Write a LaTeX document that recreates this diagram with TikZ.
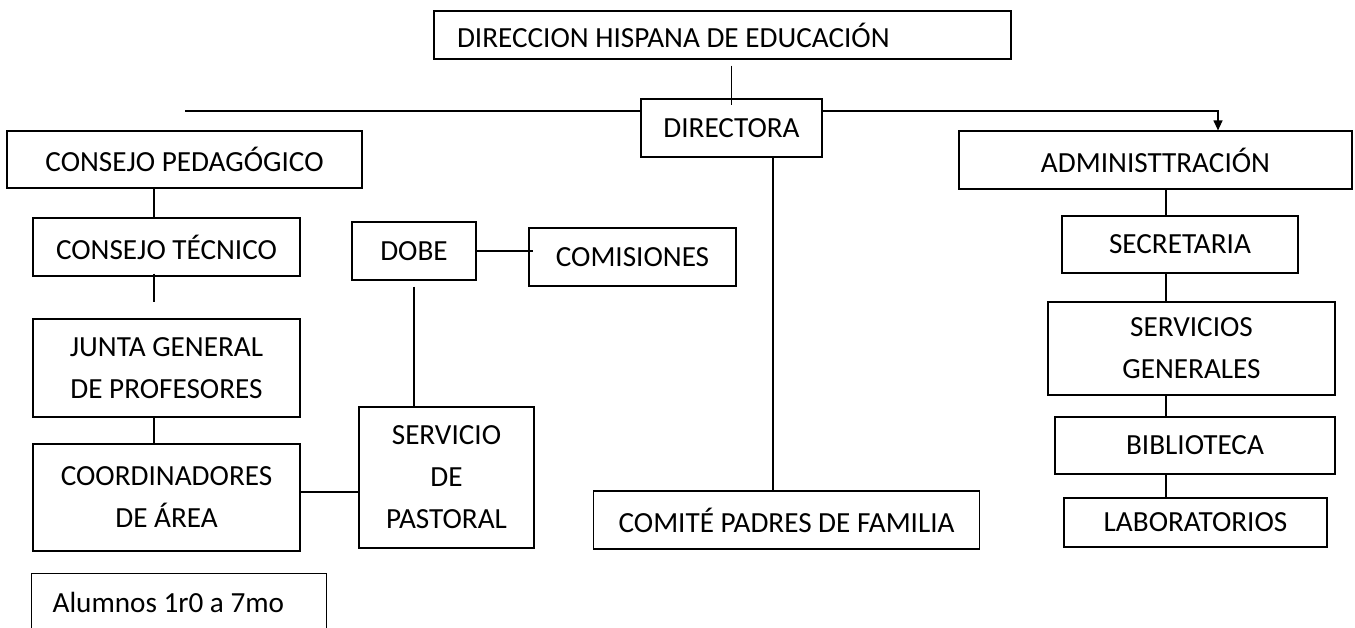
\documentclass[tikz,border=0pt]{standalone}
\usepackage{fontspec}
\setmainfont{Carlito}
\usetikzlibrary{arrows.meta,calc}

\tikzset{
    caja/.style={draw, line width=0.6pt, align=center, inner sep=2pt,
        font=\fontsize{14.6}{21}\selectfont},
    cajaizq/.style={caja, align=flush left},
}

\begin{document}
\begin{tikzpicture}[x=0.5pt,y=-0.5pt,line width=0.6pt]
    \useasboundingbox (0,0) rectangle (1355,627);
    \clip (0,0) rectangle (1355,627);
    % cajas
    \node[cajaizq, minimum width=288.5pt, minimum height=24pt, text width=265.5pt, inner xsep=11.5pt] (dhe) at (722.5,35) {DIRECCION HISPANA DE EDUCACIÓN};
    \node[caja, minimum width=90.5pt, minimum height=29pt] (directora) at (731.5,128) {DIRECTORA};
    \node[caja, minimum width=177.5pt, minimum height=28.5pt] (consped) at (184.5,159.5) {CONSEJO PEDAGÓGICO};
    \node[caja, minimum width=196.5pt, minimum height=29pt] (admin) at (1155.5,160) {ADMINISTTRACIÓN};
    \node[caja, minimum width=133.5pt, minimum height=29pt] (constec) at (166.5,247) {CONSEJO TÉCNICO};
    \node[caja, minimum width=133.5pt, minimum height=49pt] (junta) at (166.5,368) {JUNTA GENERAL\\DE PROFESORES};
    \node[caja, minimum width=133.5pt, minimum height=53.5pt] (coord) at (166.5,497.5) {COORDINADORES\\DE ÁREA};
    \node[cajaizq, anchor=north west, minimum width=147.5pt, minimum height=28.5pt, text width=126.5pt, inner xsep=10.5pt] (alumnos) at (31,573) {Alumnos 1r0 a 7mo};
    \node[caja, minimum width=62pt, minimum height=29pt] (dobe) at (414,251) {DOBE};
    \node[caja, minimum width=103.5pt, minimum height=29pt] (comis) at (632.5,257) {COMISIONES};
    \node[caja, minimum width=87.5pt, minimum height=70.5pt] (pastoral) at (446.5,477.5) {SERVICIO\\DE\\PASTORAL};
    \node[caja, anchor=west, minimum height=29pt, inner xsep=12.5pt] (padres) at (593,520) {COMITÉ PADRES DE FAMILIA};
    \node[caja, minimum width=118pt, minimum height=28.5pt] (secre) at (1180,244.5) {SECRETARIA};
    \node[caja, minimum width=143.5pt, minimum height=46.5pt] (servgen) at (1191.5,348.5) {SERVICIOS\\GENERALES};
    \node[caja, minimum width=140pt, minimum height=28.5pt] (biblio) at (1195,445.5) {BIBLIOTECA};
    \node[caja, minimum width=131.5pt, minimum height=24.5pt] (labs) at (1195.5,522.5) {LABORATORIOS};
    % columnas de las lineas
    \coordinate (lcol) at (154,0);
    \coordinate (ccol) at (773,0);
    \coordinate (rcol) at (1166,0);
    \coordinate (tope) at (185,111);
    % arriba
    \draw ($(dhe.south -| directora.north)+(0,6)$) -- ($(directora.north)+(0,7)$);
    \draw (tope) -- (tope -| directora.west);
    \draw[-{Triangle[length=5pt,width=4.5pt]}] (tope -| directora.east) -| ($(admin.north)+(62.5,0)$);
    % izquierda
    \draw (consped.south -| lcol) -- (constec.north -| lcol);
    \draw ($(constec.south -| lcol)+(0,-3)$) -- ($(junta.north -| lcol)+(0,-16)$);
    \draw (junta.south -| lcol) -- (coord.north -| lcol);
    \draw ($(coord.east)+(0,-5.5)$) -- ($(pastoral.west |- coord.east)+(0,-5.5)$);
    \draw (dobe.east) -- ($(comis.west |- dobe.east)+(5,0)$);
    \draw ($(dobe.south)+(0,6)$) -- (dobe.south |- pastoral.north);
    % centro
    \draw (directora.south -| ccol) -- (padres.north -| ccol);
    % derecha
    \draw (admin.south -| rcol) -- (secre.north -| rcol);
    \draw (secre.south -| rcol) -- (servgen.north -| rcol);
    \draw (servgen.south -| rcol) -- (biblio.north -| rcol);
    \draw (biblio.south -| rcol) -- (labs.north -| rcol);
\end{tikzpicture}
\end{document}
